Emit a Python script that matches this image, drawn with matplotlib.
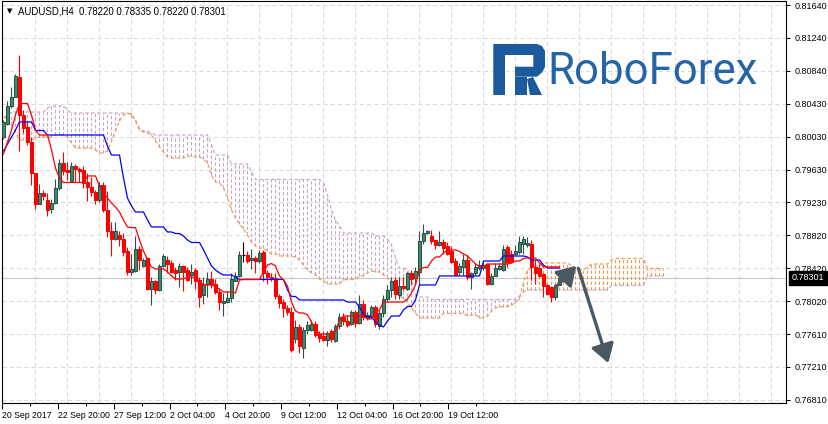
import numpy as np
import matplotlib
matplotlib.use('Agg')
import matplotlib.pyplot as plt
from matplotlib.patches import Polygon

plt.rcParams['font.family'] = ['Liberation Sans', 'DejaVu Sans']

# AUDUSD H4 candles (oldest first)
opens = [0.8002, 0.8018, 0.8040, 0.8052, 0.8076, 0.8030, 0.8015, 0.7996, 0.7958, 0.7921,
         0.7934, 0.7925, 0.7914, 0.7922, 0.7940, 0.7971, 0.7962, 0.7949, 0.7967, 0.7964,
         0.7962, 0.7948, 0.7942, 0.7935, 0.7925, 0.7944, 0.7913, 0.7888, 0.7878, 0.7883,
         0.7878, 0.7863, 0.7838, 0.7839, 0.7866, 0.7845, 0.7854, 0.7817, 0.7826, 0.7815,
         0.7845, 0.7852, 0.7849, 0.7840, 0.7838, 0.7845, 0.7840, 0.7834, 0.7840, 0.7828,
         0.7809, 0.7823, 0.7829, 0.7823, 0.7813, 0.7799, 0.7801, 0.7806, 0.7827, 0.7832,
         0.7858, 0.7858, 0.7852, 0.7855, 0.7851, 0.7862, 0.7836, 0.7831, 0.7830, 0.7808,
         0.7801, 0.7793, 0.7789, 0.7755, 0.7770, 0.7745, 0.7767, 0.7767, 0.7774, 0.7762,
         0.7759, 0.7754, 0.7765, 0.7753, 0.7771, 0.7783, 0.7778, 0.7774, 0.7789, 0.7775,
         0.7798, 0.7781, 0.7783, 0.7795, 0.7771, 0.7787, 0.7804, 0.7815, 0.7828, 0.7809,
         0.7820, 0.7817, 0.7836, 0.7830, 0.7838, 0.7875, 0.7885, 0.7882, 0.7876, 0.7871,
         0.7874, 0.7869, 0.7863, 0.7851, 0.7838, 0.7844, 0.7852, 0.7831, 0.7836, 0.7842,
         0.7842, 0.7847, 0.7823, 0.7833, 0.7841, 0.7840, 0.7868, 0.7860, 0.7860, 0.7862,
         0.7872, 0.7871, 0.7872, 0.7844, 0.7842, 0.7835, 0.7821, 0.7819, 0.7807, 0.78220]
highs = [0.8023, 0.8046, 0.8064, 0.8080, 0.8103, 0.8035, 0.8021, 0.8003, 0.7959, 0.7945,
         0.7938, 0.7934, 0.7927, 0.7951, 0.7976, 0.7984, 0.7972, 0.7972, 0.7969, 0.7966,
         0.7967, 0.7958, 0.7954, 0.7938, 0.7948, 0.7947, 0.7936, 0.7899, 0.7898, 0.7887,
         0.7885, 0.7868, 0.7860, 0.7882, 0.7869, 0.7854, 0.7856, 0.7831, 0.7828, 0.7847,
         0.7859, 0.7857, 0.7852, 0.7844, 0.7848, 0.7846, 0.7844, 0.7847, 0.7842, 0.7831,
         0.7831, 0.7838, 0.7839, 0.7829, 0.7817, 0.7812, 0.7814, 0.7836, 0.7838, 0.7863,
         0.7874, 0.7863, 0.7865, 0.7857, 0.7864, 0.7864, 0.7840, 0.7836, 0.7836, 0.7811,
         0.7805, 0.7797, 0.7795, 0.7779, 0.7774, 0.7770, 0.7777, 0.7779, 0.7777, 0.7765,
         0.7765, 0.7765, 0.7768, 0.7774, 0.7787, 0.7787, 0.7785, 0.7791, 0.7791, 0.7809,
         0.7803, 0.7789, 0.7797, 0.7797, 0.7791, 0.7809, 0.7821, 0.7831, 0.7831, 0.7831,
         0.7831, 0.7838, 0.7840, 0.7844, 0.7887, 0.7896, 0.7889, 0.7889, 0.7877, 0.7887,
         0.7878, 0.7874, 0.7869, 0.7854, 0.7848, 0.7860, 0.7858, 0.7838, 0.7848, 0.7852,
         0.7850, 0.7849, 0.7836, 0.7848, 0.7848, 0.7871, 0.7871, 0.7864, 0.7870, 0.7882,
         0.7881, 0.7880, 0.7876, 0.7852, 0.7847, 0.7836, 0.7823, 0.7820, 0.7823, 0.78335]
lows = [0.8000, 0.8017, 0.8038, 0.8051, 0.7985, 0.8007, 0.7993, 0.7944, 0.7915, 0.7920,
        0.7925, 0.7906, 0.7909, 0.7921, 0.7938, 0.7956, 0.7950, 0.7948, 0.7948, 0.7947,
        0.7940, 0.7924, 0.7931, 0.7921, 0.7923, 0.7911, 0.7880, 0.7857, 0.7876, 0.7869,
        0.7857, 0.7834, 0.7834, 0.7838, 0.7840, 0.7844, 0.7815, 0.7797, 0.7811, 0.7814,
        0.7844, 0.7836, 0.7836, 0.7828, 0.7819, 0.7814, 0.7827, 0.7823, 0.7817, 0.7795,
        0.7798, 0.7807, 0.7818, 0.7811, 0.7791, 0.7784, 0.7799, 0.7801, 0.7827, 0.7831,
        0.7850, 0.7849, 0.7841, 0.7836, 0.7849, 0.7827, 0.7823, 0.7827, 0.7805, 0.7793,
        0.7783, 0.7785, 0.7740, 0.7751, 0.7738, 0.7732, 0.7762, 0.7765, 0.7758, 0.7752,
        0.7753, 0.7747, 0.7752, 0.7752, 0.7768, 0.7772, 0.7770, 0.7772, 0.7770, 0.7774,
        0.7779, 0.7779, 0.7781, 0.7770, 0.7768, 0.7783, 0.7801, 0.7807, 0.7805, 0.7805,
        0.7815, 0.7815, 0.7823, 0.7821, 0.7821, 0.7872, 0.7884, 0.7872, 0.7866, 0.7869,
        0.7860, 0.7858, 0.7849, 0.7833, 0.7834, 0.7834, 0.7828, 0.7817, 0.7834, 0.7840,
        0.7840, 0.7822, 0.7822, 0.7832, 0.7840, 0.7839, 0.7844, 0.7849, 0.7858, 0.7860,
        0.7860, 0.7868, 0.7828, 0.7823, 0.7831, 0.7807, 0.7809, 0.7801, 0.7803, 0.78220]
closes = [0.8021, 0.8040, 0.8052, 0.8077, 0.8029, 0.8014, 0.7997, 0.7958, 0.7921, 0.7934,
          0.7931, 0.7913, 0.7922, 0.7940, 0.7971, 0.7961, 0.7960, 0.7967, 0.7964, 0.7961,
          0.7946, 0.7942, 0.7935, 0.7925, 0.7944, 0.7913, 0.7888, 0.7878, 0.7887, 0.7878,
          0.7862, 0.7838, 0.7841, 0.7865, 0.7852, 0.7852, 0.7817, 0.7826, 0.7815, 0.7845,
          0.7857, 0.7847, 0.7838, 0.7836, 0.7845, 0.7837, 0.7828, 0.7838, 0.7827, 0.7807,
          0.7823, 0.7829, 0.7823, 0.7813, 0.7801, 0.7802, 0.7806, 0.7829, 0.7833, 0.7858,
          0.7858, 0.7851, 0.7854, 0.7851, 0.7861, 0.7836, 0.7831, 0.7830, 0.7808, 0.7799,
          0.7793, 0.7789, 0.7742, 0.7770, 0.7747, 0.7767, 0.7773, 0.7774, 0.7760, 0.7757,
          0.7754, 0.7763, 0.7755, 0.7771, 0.7783, 0.7778, 0.7773, 0.7789, 0.7775, 0.7798,
          0.7783, 0.7785, 0.7795, 0.7774, 0.7787, 0.7804, 0.7815, 0.7827, 0.7810, 0.7820,
          0.7818, 0.7836, 0.7829, 0.7839, 0.7875, 0.7885, 0.7887, 0.7875, 0.7871, 0.7874,
          0.7867, 0.7860, 0.7850, 0.7834, 0.7845, 0.7852, 0.7831, 0.7836, 0.7844, 0.7846,
          0.7846, 0.7823, 0.7833, 0.7842, 0.7845, 0.7865, 0.7850, 0.7850, 0.7863, 0.7874,
          0.7878, 0.7873, 0.7844, 0.7836, 0.7833, 0.7820, 0.7811, 0.7807, 0.7821, 0.78301]

# Ichimoku lines as (level, number of bars)
tenkan_runs = [(0.79818, 1), (0.79964, 1), (0.80111, 1), (0.80295, 1), (0.80435, 3), (0.80295, 1),
               (0.80111, 1), (0.80050, 3), (0.79867, 1), (0.79646, 1), (0.79524, 1), (0.79469, 6),
               (0.79549, 3), (0.79426, 1), (0.79353, 1), (0.79279, 1), (0.79218, 1), (0.79169, 1),
               (0.79108, 1), (0.79011, 1), (0.78925, 1), (0.78917, 2), (0.78766, 1), (0.78631, 1),
               (0.78521, 1), (0.78436, 1), (0.78411, 3), (0.78375, 1), (0.78326, 1), (0.78289, 3),
               (0.78314, 2), (0.78301, 1), (0.78265, 1), (0.78216, 3), (0.78191, 1), (0.78167, 1),
               (0.78130, 3), (0.78118, 1), (0.78277, 1), (0.78283, 5), (0.78375, 1), (0.78460, 1),
               (0.78478, 1), (0.78448, 1), (0.78326, 1), (0.78277, 1), (0.78203, 1), (0.78007, 1),
               (0.77897, 1), (0.77873, 2), (0.77849, 1), (0.77763, 1), (0.77665, 1), (0.77616, 4),
               (0.77653, 1), (0.77787, 1), (0.77836, 6), (0.77800, 2), (0.77885, 1), (0.77910, 1),
               (0.78007, 6), (0.78044, 1), (0.78118, 1), (0.78216, 1), (0.78399, 1), (0.78430, 2),
               (0.78509, 1), (0.78558, 2), (0.78607, 1), (0.78644, 3), (0.78626, 1), (0.78595, 1),
               (0.78570, 1), (0.78521, 1), (0.78472, 1), (0.78442, 2), (0.78472, 6), (0.78485, 1),
               (0.78509, 2), (0.78540, 1), (0.78546, 3), (0.78485, 1), (0.78436, 5)]
kijun_runs = [(0.79854, 1), (0.79940, 1), (0.80026, 1), (0.80111, 1), (0.80209, 4), (0.80105, 3),
              (0.80050, 15), (0.79915, 1), (0.79805, 3), (0.79524, 1), (0.79279, 1), (0.79182, 1),
              (0.79108, 3), (0.79011, 1), (0.78925, 4), (0.78864, 2), (0.78845, 2), (0.78815, 1),
              (0.78766, 1), (0.78735, 3), (0.78644, 1), (0.78546, 1), (0.78448, 1), (0.78399, 1),
              (0.78363, 1), (0.78338, 3), (0.78314, 1), (0.78283, 12), (0.78154, 1), (0.78075, 2),
              (0.78032, 12), (0.78007, 3), (0.77946, 1), (0.77860, 1), (0.77824, 2), (0.77762, 1),
              (0.77726, 1), (0.77702, 1), (0.77775, 1), (0.77836, 3), (0.77910, 1), (0.77953, 2),
              (0.78032, 1), (0.78216, 5), (0.78326, 11), (0.78509, 5), (0.78570, 6), (0.78558, 1),
              (0.78521, 3), (0.78460, 1), (0.78423, 4)]
span_a_runs = [(0.80264, 2), (0.80172, 1), (0.80087, 1), (0.79989, 4), (0.80013, 1), (0.80026, 4),
               (0.80050, 3), (0.80026, 1), (0.79952, 1), (0.79891, 5), (0.79867, 1), (0.79830, 2),
               (0.79854, 1), (0.79977, 1), (0.80099, 1), (0.80221, 1), (0.80295, 1), (0.80313, 2),
               (0.80221, 1), (0.80111, 1), (0.80087, 1), (0.80075, 1), (0.80050, 1), (0.79977, 1),
               (0.79903, 1), (0.79842, 1), (0.79781, 1), (0.79769, 4), (0.79793, 2), (0.79781, 2),
               (0.79757, 1), (0.79708, 1), (0.79561, 1), (0.79475, 1), (0.79463, 1), (0.79402, 1),
               (0.79279, 1), (0.79133, 1), (0.79035, 1), (0.78962, 1), (0.78900, 1), (0.78827, 1),
               (0.78741, 1), (0.78692, 1), (0.78668, 2), (0.78631, 1), (0.78595, 2), (0.78570, 4),
               (0.78558, 1), (0.78521, 1), (0.78460, 1), (0.78399, 1), (0.78363, 1), (0.78338, 1),
               (0.78289, 1), (0.78265, 1), (0.78228, 4), (0.78277, 1), (0.78283, 3), (0.78326, 2),
               (0.78363, 1), (0.78387, 1), (0.78375, 2), (0.78338, 1), (0.78314, 1), (0.78216, 1),
               (0.78118, 1), (0.78081, 1), (0.78050, 1), (0.78007, 1), (0.77934, 1), (0.77873, 1),
               (0.77812, 6), (0.77867, 6), (0.77836, 1), (0.77848, 2), (0.77812, 2), (0.77836, 1),
               (0.77897, 1), (0.77934, 1), (0.77952, 3), (0.77971, 1), (0.77995, 1), (0.78044, 1),
               (0.78252, 1), (0.78399, 1), (0.78423, 1), (0.78448, 1), (0.78472, 1), (0.78485, 7),
               (0.78448, 1), (0.78423, 1), (0.78399, 2), (0.78436, 1), (0.78472, 5), (0.78521, 1),
               (0.78540, 8), (0.78417, 5)]
span_b_runs = [(0.80258, 1), (0.80295, 1), (0.80331, 9), (0.80380, 1), (0.80405, 4), (0.80356, 1),
               (0.80319, 15), (0.80282, 1), (0.80233, 1), (0.80136, 1), (0.80099, 2), (0.80075, 1),
               (0.80050, 14), (0.79928, 1), (0.79805, 4), (0.79696, 5), (0.79597, 1), (0.79506, 17),
               (0.79463, 1), (0.79316, 1), (0.79133, 1), (0.79011, 1), (0.78937, 1), (0.78851, 8),
               (0.78815, 3), (0.78778, 1), (0.78705, 1), (0.78546, 1), (0.78423, 2), (0.78399, 1),
               (0.78277, 1), (0.78105, 1), (0.78069, 3), (0.78038, 22), (0.78081, 1), (0.78130, 1),
               (0.78154, 21), (0.78210, 9), (0.78326, 5)]

ytick_labels = ['0.76810', '0.77210', '0.77610', '0.78020', '0.78420', '0.78820', '0.79230',
                '0.79630', '0.80030', '0.80430', '0.80840', '0.81240', '0.81640']
xtick_labels = ['20 Sep 2017', '22 Sep 20:00', '27 Sep 12:00', '2 Oct 04:00', '4 Oct 20:00',
                '9 Oct 12:00', '12 Oct 04:00', '16 Oct 20:00', '19 Oct 12:00']
last_price = 0.78301
title = 'AUDUSD,H4  0.78220 0.78335 0.78220 0.78301'

# forecast arrows drawn on the chart: (bar, price) from -> to
arrow_up = [(137.9, 0.7818), (143.2, 0.7845)]
arrow_down = [(143.7, 0.7842), (151.2, 0.7726)]


def unrun(runs):
    return np.repeat([v for v, n in runs], [n for v, n in runs])


o, h, l, c = map(np.array, (opens, highs, lows, closes))
x = np.arange(len(c))
tenkan = unrun(tenkan_runs)
kijun = unrun(kijun_runs)
span_a = unrun(span_a_runs)
span_b = unrun(span_b_runs)

W, H = 829, 424
fig = plt.figure(figsize=(W / 100, H / 100), dpi=100)
ax = fig.add_axes([2 / W, 21 / H, 784 / W, 402 / H])
ax.set_xlim(-0.375, 195.625)   # 4 px per bar, bars on pixel centres
ax.set_ylim(0.76772, 0.81689)

# grid
yt = np.linspace(float(ytick_labels[0]), float(ytick_labels[-1]), len(ytick_labels))
grid_kw = dict(color='#d9d9d9', lw=0.75, ls=(0, (4, 3)), zorder=0.5)
for gy in yt:
    ax.axhline(gy, **grid_kw)
for gx in np.arange(8, 196, 8):
    ax.axvline(gx, **grid_kw)

ax.axhline(last_price, color='#c8c8c8', lw=0.8, zorder=1)

# kumo (cloud) hatch + spans
xc = np.arange(len(span_a))
cols = np.where(span_a > span_b, '#f29a50', '#c9a5c9')
ax.vlines(xc, np.minimum(span_a, span_b), np.maximum(span_a, span_b), colors=cols,
          lw=0.8, linestyles=(0, (3, 2)), zorder=2)
ax.plot(xc, span_b, color='#c9a5c9', lw=0.85, ls=(0, (3, 2)), zorder=2.1)
ax.plot(xc, span_a, color='#f29a50', lw=0.85, ls=(0, (3, 2)), zorder=2.2)

# candles
up = c > o
dn = c < o
flat = c == o
wick_col = np.where(up, '#2f4f4f', np.where(dn, '#ff0000', '#000000'))
ax.vlines(x, l, h, colors=wick_col, lw=0.8, zorder=3)
ax.bar(x[up], (c - o)[up], bottom=o[up], width=0.6, color='#3d8f64',
       edgecolor='#2f4f4f', lw=0.75, zorder=3.1)
ax.bar(x[dn], (o - c)[dn], bottom=c[dn], width=0.7, color='#ff0000',
       edgecolor='#ff0000', lw=0.75, zorder=3.1)
ax.hlines(c[flat], x[flat] - 0.4, x[flat] + 0.4, color='black', lw=0.8, zorder=3.1)

# tenkan / kijun
ax.plot(np.arange(len(kijun)), kijun, color='#0000ff', lw=0.9, zorder=4)
ax.plot(np.arange(len(tenkan)), tenkan, color='#ff0000', lw=0.9, zorder=4)

for (x0, y0), (x1, y1) in (arrow_up, arrow_down):
    ax.annotate('', xy=(x1, y1), xytext=(x0, y0),
                arrowprops=dict(arrowstyle='-|>,head_length=0.8,head_width=0.5',
                                color='#4a5863', lw=2.4, mutation_scale=14,
                                shrinkA=0, shrinkB=0), zorder=5)

# axes
for s in ax.spines.values():
    s.set_linewidth(0.8)
    s.set_color('black')
ax.yaxis.tick_right()
ax.set_yticks(yt, ytick_labels)
ax.tick_params(axis='y', direction='out', length=3, width=0.75, pad=3, labelsize=6.5)
xt = -0.3 + 13.94 * np.arange(len(xtick_labels))
ax.set_xticks(xt, xtick_labels)
ax.set_xticks(xt + 6.97, minor=True)
ax.tick_params(axis='x', which='major', length=4, width=0.75, pad=1.5, labelsize=6.3)
ax.tick_params(axis='x', which='minor', length=2, width=0.75)
for t in ax.get_xticklabels():
    t.set_ha('left')

ax.text((792 - 2) / 784, last_price, '%.5f' % last_price, transform=ax.get_yaxis_transform(),
        ha='left', va='center', color='white', fontsize=6.5, clip_on=False, zorder=10,
        bbox=dict(boxstyle='square,pad=0.3', fc='black', ec='black'))

fig.text(7 / W, 1 - 11 / H, '\u25bc', fontsize=5, family='DejaVu Sans', va='center')
fig.text(18 / W, 1 - 11 / H, title, fontsize=6.9, va='center')

# RoboForex logo
lax = fig.add_axes([0, 0, 1, 1])
lax.set_xlim(0, W)
lax.set_ylim(H, 0)
lax.axis('off')
lax.patch.set_visible(False)
logo_col = '#1b5b9d'
lax.add_patch(Polygon([(493.3, 44), (537, 44), (542, 46), (545, 51), (545, 67), (542, 72.5),
                       (537, 76.7), (515, 76.7), (515, 66.7), (533.3, 66.7), (533.3, 55),
                       (505, 55), (505, 95), (493.3, 95)], closed=True, fc=logo_col, ec='none'))
lax.add_patch(Polygon([(515, 76.7), (526.7, 76.7), (526.7, 95), (515, 95)], closed=True,
                      fc=logo_col, ec='none'))
lax.add_patch(Polygon([(527, 79), (533, 77), (542, 95), (530, 95)], closed=True,
                      fc=logo_col, ec='none'))
lax.text(547, 83.5, 'RoboForex', fontsize=31.5, family=['Roboto', 'DejaVu Sans'],
         color='#2565a6', va='baseline', ha='left')

fig.savefig('out.png', dpi=100)
